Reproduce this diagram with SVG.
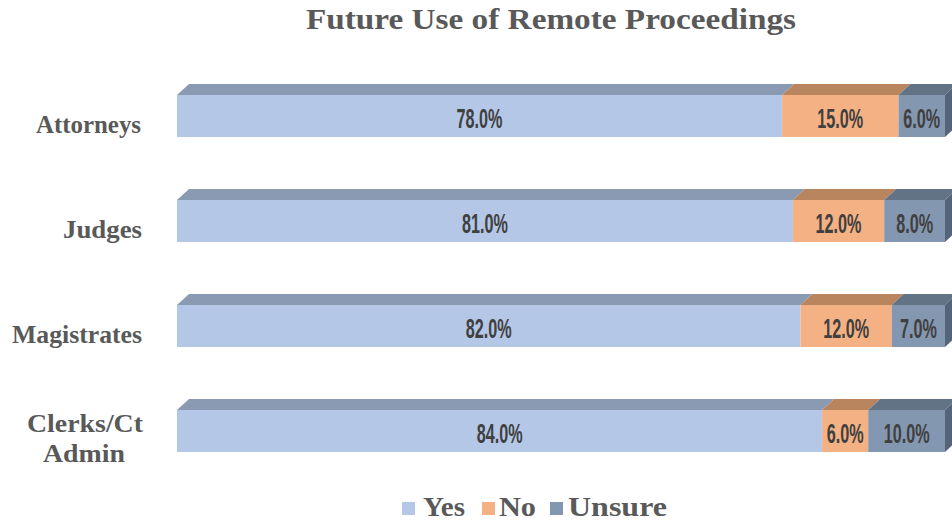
<svg xmlns="http://www.w3.org/2000/svg" width="952" height="522" viewBox="0 0 952 522">
<style>
.title{font-family:"Liberation Serif",serif;font-weight:bold;font-size:29px;fill:#595959}
.cat{font-family:"Liberation Serif",serif;font-weight:bold;font-size:25px;fill:#595959}
.leg{font-family:"Liberation Serif",serif;font-weight:bold;font-size:27px;fill:#595959}
.val{font-family:"Liberation Sans",sans-serif;font-weight:bold;font-size:27px;fill:#404040;text-anchor:middle}
.yf{fill:#B4C7E7}.yt{fill:#8A9AB2}
.nf{fill:#F4B183}.nt{fill:#B8855F}
.uf{fill:#8497B0}.ut{fill:#637386}.us{fill:#56647A}
</style>
<rect width="952" height="522" fill="#FFFFFF"/>
<text class="title" x="306" y="29" textLength="490" lengthAdjust="spacingAndGlyphs">Future Use of Remote Proceedings</text>

<g id="attorneys">
<polygon class="yt" points="177,95 189,84 794.1,84 782.1,95"/>
<polygon class="nt" points="782.1,95 794.1,84 910.5,84 898.5,95"/>
<polygon class="ut" points="898.5,95 910.5,84 957,84 945,95"/>
<polygon class="us" points="945,95 957,84 957,126 945,137"/>
<rect class="yf" x="177" y="95" width="605.1" height="42"/>
<rect class="nf" x="782.1" y="95" width="116.4" height="42"/>
<rect class="uf" x="898.5" y="95" width="46.5" height="42"/>
<text class="cat" x="141" y="133" text-anchor="end" textLength="105" lengthAdjust="spacingAndGlyphs">Attorneys</text>
<text class="val" transform="translate(479.5,128) scale(0.6,1)">78.0%</text>
<text class="val" transform="translate(840.3,128) scale(0.6,1)">15.0%</text>
<text class="val" transform="translate(921.8,128) scale(0.6,1)">6.0%</text>
</g>

<g id="judges">
<polygon class="yt" points="177,200 189,189 804.9,189 792.9,200"/>
<polygon class="nt" points="792.9,200 804.9,189 896.2,189 884.2,200"/>
<polygon class="ut" points="884.2,200 896.2,189 957,189 945,200"/>
<polygon class="us" points="945,200 957,189 957,231 945,242"/>
<rect class="yf" x="177" y="200" width="615.9" height="42"/>
<rect class="nf" x="792.9" y="200" width="91.3" height="42"/>
<rect class="uf" x="884.2" y="200" width="60.8" height="42"/>
<text class="cat" x="142" y="238" text-anchor="end" textLength="79" lengthAdjust="spacingAndGlyphs">Judges</text>
<text class="val" transform="translate(485,233) scale(0.6,1)">81.0%</text>
<text class="val" transform="translate(838.5,233) scale(0.6,1)">12.0%</text>
<text class="val" transform="translate(914.6,233) scale(0.6,1)">8.0%</text>
</g>

<g id="magistrates">
<polygon class="yt" points="177,305 189,294 812.5,294 800.5,305"/>
<polygon class="nt" points="800.5,305 812.5,294 903.7,294 891.7,305"/>
<polygon class="ut" points="891.7,305 903.7,294 957,294 945,305"/>
<polygon class="us" points="945,305 957,294 957,336 945,347"/>
<rect class="yf" x="177" y="305" width="623.5" height="42"/>
<rect class="nf" x="800.5" y="305" width="91.2" height="42"/>
<rect class="uf" x="891.7" y="305" width="53.3" height="42"/>
<text class="cat" x="142" y="343" text-anchor="end" textLength="130" lengthAdjust="spacingAndGlyphs">Magistrates</text>
<text class="val" transform="translate(488.8,338) scale(0.6,1)">82.0%</text>
<text class="val" transform="translate(846.1,338) scale(0.6,1)">12.0%</text>
<text class="val" transform="translate(918.4,338) scale(0.6,1)">7.0%</text>
</g>

<g id="clerks">
<polygon class="yt" points="177,410 189,399 834.1,399 822.1,410"/>
<polygon class="nt" points="822.1,410 834.1,399 880.2,399 868.2,410"/>
<polygon class="ut" points="868.2,410 880.2,399 957,399 945,410"/>
<polygon class="us" points="945,410 957,399 957,441 945,452"/>
<rect class="yf" x="177" y="410" width="645.1" height="42"/>
<rect class="nf" x="822.1" y="410" width="46.1" height="42"/>
<rect class="uf" x="868.2" y="410" width="76.8" height="42"/>
<text class="cat" x="85" y="432" text-anchor="middle" textLength="116" lengthAdjust="spacingAndGlyphs">Clerks/Ct</text>
<text class="cat" x="84" y="462" text-anchor="middle" textLength="82" lengthAdjust="spacingAndGlyphs">Admin</text>
<text class="val" transform="translate(499.6,443) scale(0.6,1)">84.0%</text>
<text class="val" transform="translate(845.2,443) scale(0.6,1)">6.0%</text>
<text class="val" transform="translate(906.6,443) scale(0.6,1)">10.0%</text>
</g>

<g id="legend">
<rect class="yf" x="402" y="502" width="13" height="13"/>
<text class="leg" x="423" y="516" textLength="42" lengthAdjust="spacingAndGlyphs">Yes</text>
<rect class="nf" x="482" y="502" width="13" height="13"/>
<text class="leg" x="499" y="516" textLength="37" lengthAdjust="spacingAndGlyphs">No</text>
<rect class="uf" x="550" y="502" width="13" height="13"/>
<text class="leg" x="568" y="516" textLength="99" lengthAdjust="spacingAndGlyphs">Unsure</text>
</g>
</svg>
